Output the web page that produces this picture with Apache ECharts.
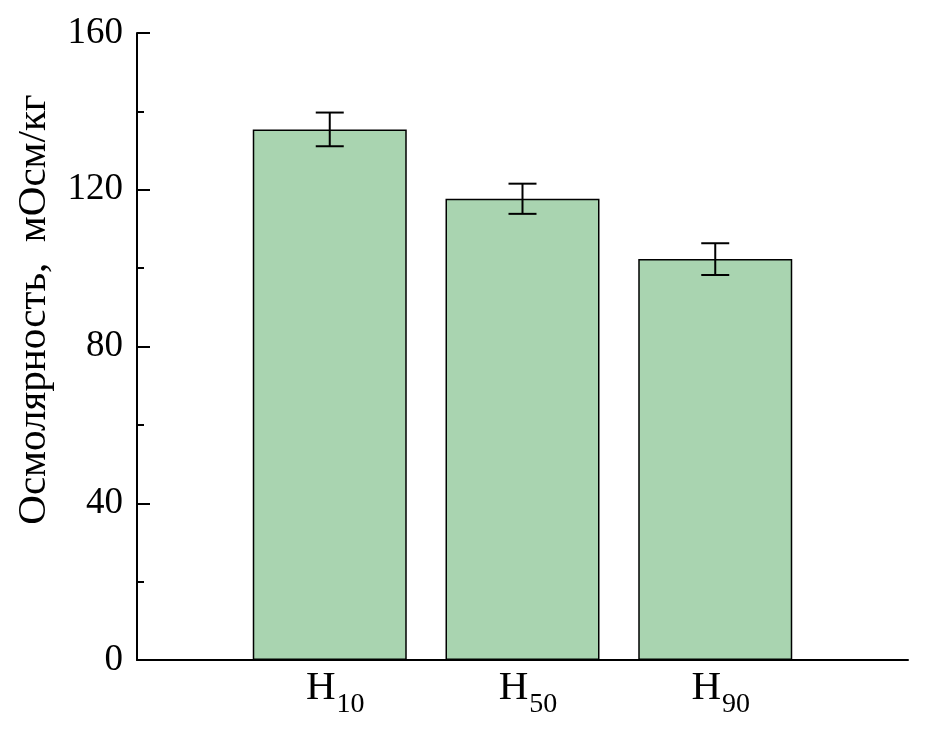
<!DOCTYPE html>
<html>
<head>
<meta charset="utf-8">
<script src="https://cdn.jsdelivr.net/npm/echarts@6/dist/echarts.min.js"></script>
<style>html,body{margin:0;padding:0;background:#fff}#c{width:951px;height:738px}</style>
</head>
<body>
<div id="c"></div>
<script>
const categories = ['', 'H10', 'H50', 'H90', ''];
const values = [null, 135.4, 117.7, 102.3, null];
const errors = [null, 4.3, 3.85, 4.05, null];
const yTicks = [0, 40, 80, 120, 160];

const FONT = '"Liberation Serif", "DejaVu Serif", serif';
const chart = echarts.init(document.getElementById('c'));
const errData = [];
values.forEach((v, i) => { if (v != null) errData.push([i, v - errors[i], v + errors[i]]); });

chart.setOption({
  animation: false,
  grid: { left: 137, right: 43, top: 33, bottom: 78, containLabel: false },
  xAxis: {
    type: 'category',
    data: categories,
    boundaryGap: false,
    axisLine: { lineStyle: { color: '#000', width: 2 } },
    axisTick: { show: false },
    splitLine: { show: false },
    axisLabel: {
      interval: 0,
      margin: 8,
      padding: [0, 0, 0, 11],
      formatter: v => v ? '{h|H}{s|' + v.slice(1) + '}' : '',
      rich: {
        h: { fontFamily: FONT, fontSize: 41, lineHeight: 41, color: '#000', verticalAlign: 'top' },
        s: { fontFamily: FONT, fontSize: 28, lineHeight: 28, color: '#000', verticalAlign: 'top', padding: [23, 0, 0, 1] }
      }
    }
  },
  yAxis: {
    type: 'value',
    min: 0, max: 160, interval: 40,
    name: 'Осмолярность,  мОсм/кг',
    nameLocation: 'middle',
    nameGap: 82,
    nameRotate: 90,
    nameTextStyle: { fontFamily: FONT, fontSize: 41, color: '#000', padding: [0, 0, 0, 74] },
    axisLine: { show: true, lineStyle: { color: '#000', width: 2 } },
    axisTick: { show: true, inside: true, length: 13, lineStyle: { color: '#000', width: 2 } },
    minorTick: { show: true, splitNumber: 2, length: 7, lineStyle: { color: '#000', width: 2 } },
    splitLine: { show: false },
    axisLabel: {
      margin: 14,
      fontFamily: FONT, fontSize: 37, color: '#000',
      formatter: v => yTicks.includes(v) ? String(v) : ''
    }
  },
  series: [
    {
      type: 'bar',
      data: values,
      barWidth: 154,
      itemStyle: { color: '#a9d4b0', borderColor: '#000', borderWidth: 1.5 },
      z: 2
    },
    {
      type: 'custom',
      data: errData,
      z: 5,
      renderItem: (params, api) => {
        const x = api.value(0);
        const lo = api.coord([x, api.value(1)]);
        const hi = api.coord([x, api.value(2)]);
        const hw = 14;
        const style = { stroke: '#000', lineWidth: 2 };
        return {
          type: 'group',
          children: [
            { type: 'line', shape: { x1: hi[0], y1: hi[1], x2: lo[0], y2: lo[1] }, style },
            { type: 'line', shape: { x1: hi[0] - hw, y1: hi[1], x2: hi[0] + hw, y2: hi[1] }, style },
            { type: 'line', shape: { x1: lo[0] - hw, y1: lo[1], x2: lo[0] + hw, y2: lo[1] }, style }
          ]
        };
      }
    }
  ]
});
</script>
</body>
</html>
